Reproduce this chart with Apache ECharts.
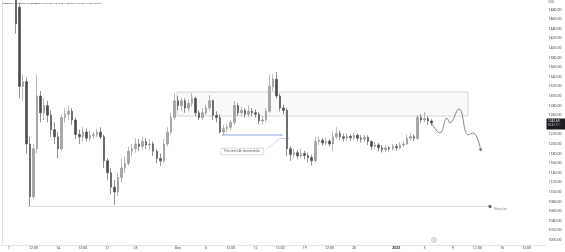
<!DOCTYPE html>
<html><head><meta charset="utf-8">
<script src="https://cdn.jsdelivr.net/npm/echarts@6/dist/echarts.min.js"></script>
<style>html,body{margin:0;padding:0;background:#fff}#c{width:565px;height:252px}</style>
</head><body><div id="c"></div>
<script>
// 12h slots across the visible time scale
const slotCount = 155;
const firstSlot = 4;
// [open, close, low, high] per 12h slot
const ohlc = [
[1560,1450,1430,1575],[1485,1320,1295,1495],[1320,1330,1290,1345],[1330,1200,1180,1338],
[1200,1090,1069,1215],[1090,1190,1085,1200],[1190,1300,1180,1345],[1300,1265,1245,1310],
[1265,1280,1250,1295],[1280,1260,1245,1290],[1260,1230,1215,1270],[1230,1215,1200,1245],
[1215,1190,1170,1225],[1190,1255,1185,1262],[1255,1262,1245,1275],[1262,1268,1250,1280],
[1268,1250,1240,1275],[1250,1220,1210,1255],[1220,1215,1200,1230],[1215,1225,1205,1235],
[1225,1212,1205,1232],[1212,1218,1206,1228],[1218,1220,1210,1225],[1220,1225,1214,1232],
[1225,1215,1210,1235],[1215,1165,1150,1220],[1165,1140,1125,1170],[1140,1110,1095,1150],
[1110,1100,1073,1125],[1100,1130,1092,1140],[1130,1150,1120,1170],[1150,1160,1140,1175],
[1160,1185,1155,1195],[1185,1190,1175,1200],[1190,1200,1182,1212],[1200,1195,1185,1210],
[1195,1205,1188,1215],[1205,1198,1190,1212],[1198,1200,1188,1210],[1200,1185,1175,1205],
[1185,1170,1160,1190],[1170,1165,1155,1180],[1165,1200,1160,1210],[1200,1225,1195,1235],
[1225,1255,1220,1265],[1255,1290,1250,1305],[1290,1280,1270,1300],[1280,1290,1268,1296],
[1290,1275,1265,1295],[1275,1285,1268,1292],[1285,1295,1278,1306],[1295,1265,1258,1298],
[1265,1255,1250,1270],[1255,1265,1250,1275],[1265,1275,1260,1282],[1275,1290,1270,1302],
[1290,1260,1250,1293],[1260,1255,1245,1268],[1255,1225,1222,1262],[1225,1232,1218,1240],
[1232,1235,1225,1242],[1235,1245,1228,1250],[1245,1280,1240,1290],[1280,1265,1258,1285],
[1265,1270,1258,1278],[1270,1262,1255,1275],[1262,1268,1256,1280],[1268,1265,1258,1275],
[1265,1262,1255,1272],[1262,1248,1242,1266],[1248,1250,1240,1258],[1250,1268,1246,1275],
[1268,1320,1265,1345],[1320,1335,1310,1345],[1335,1300,1295,1350],[1300,1275,1268,1305],
[1275,1270,1262,1282],[1270,1190,1175,1275],[1190,1178,1165,1195],[1178,1182,1170,1190],
[1182,1175,1168,1188],[1175,1180,1170,1190],[1180,1176,1168,1186],[1176,1172,1162,1182],
[1172,1165,1155,1178],[1165,1205,1162,1215],[1205,1208,1198,1215],[1208,1202,1196,1212],
[1202,1206,1198,1214],[1206,1200,1195,1210],[1200,1215,1185,1225],[1215,1222,1210,1235],
[1222,1215,1208,1228],[1215,1212,1205,1222],[1212,1216,1206,1222],[1216,1213,1207,1220],
[1213,1218,1208,1224],[1218,1212,1205,1222],[1212,1210,1203,1218],[1210,1214,1205,1220],
[1214,1205,1198,1218],[1205,1195,1188,1208],[1195,1198,1188,1204],[1198,1192,1185,1202],
[1192,1188,1182,1198],[1188,1192,1183,1198],[1192,1190,1184,1196],[1190,1195,1186,1200],
[1195,1192,1186,1200],[1192,1198,1188,1204],[1198,1200,1194,1206],[1200,1212,1198,1220],
[1212,1215,1208,1222],[1215,1212,1206,1220],[1212,1255,1208,1260],[1255,1250,1244,1262],
[1250,1253,1245,1267],[1253,1248,1240,1258],[1248,1243.6,1238,1252]
];
const tickIndex = [2,9,16,23,30,38,50,58,65,72,79,86,93,100,112,120,128,135,142,149];
const tickText = ['7','12:00','14','12:00','21','25','Dec','5','12:00','12','12:00','19','12:00','26','2023','5','9','12:00','16','12:00'];
// hand-drawn projection path (slot position, price)
const projX = [122,124.4,126.4,127.2,129.8,132.4,133.8,136.05];
const projY = [1244,1223,1254,1244,1273,1219,1223,1185];
// rising line
const risingX = [7.45,138.6];
const risingPrice = 1069.8;
// rectangle zone
const boxX = [49.75,132.35];
const boxY = [1308.3,1258.3];
// blue horizontal line
const blueX = [62.5,79.8];
const bluePrice = 1218.75;
const lastPrice = 1243.6;
const title = 'Ethereum / U.S. Dollar, 4h, BITSTAMP  O1247.20  H1249.70  L1238.00  C1243.60  \u22123.60 (\u22120.29%)';

const categories = [];
for (let i = 0; i < slotCount; i++) categories.push('s' + i);
const candleData = categories.map((c, i) =>
  (i >= firstSlot && i < firstSlot + ohlc.length) ? ohlc[i - firstSlot] : '-');

const FONT = 'Roboto, "Noto Sans", sans-serif';
const chart = echarts.init(document.getElementById('c'), null, {renderer: 'canvas'});
chart.setOption({
  animation: false,
  backgroundColor: '#ffffff',
  grid: {left: 0, top: 0, right: 19, bottom: 7.2},
  xAxis: [{
    type: 'category', data: categories, boundaryGap: true,
    axisLine: {lineStyle: {color: '#dfe2ea', width: 1}},
    axisTick: {show: false}, splitLine: {show: false},
    axisLabel: {
      interval: (idx) => tickIndex.includes(idx),
      formatter: (v, idx) => { const k = tickIndex.indexOf(idx); const t = k >= 0 ? tickText[k] : ''; return t === '2023' ? '{b|2023}' : t; },
      fontSize: 3.6, margin: 1.4, color: '#444', fontFamily: FONT,
      rich: {b: {fontWeight: 'bold', fontSize: 3.6, color: '#333', fontFamily: FONT}}
    }
  }, {
    type: 'value', min: -0.5, max: slotCount - 0.5, show: false
  }],
  yAxis: {
    type: 'value', position: 'right', min: 990, max: 1500, interval: 10,
    axisLine: {show: true, lineStyle: {color: '#dfe2ea', width: 1}},
    axisTick: {show: false}, splitLine: {show: false},
    axisLabel: {
      fontSize: 3.6, margin: 2.5, color: '#444', fontFamily: FONT,
      formatter: v => (v >= 1000 && v <= 1480 && Math.round(v) % 20 === 0) ? v.toFixed(2) : ''
    }
  },
  series: [
    {
      type: 'candlestick', xAxisIndex: 0, data: candleData, barWidth: 2,
      itemStyle: {color: '#a8a8a8', color0: '#4a4a4a', borderColor: '#8c8c8c', borderColor0: '#4a4a4a', borderWidth: 0.6}
    },
    {
      type: 'line', xAxisIndex: 1, silent: true,
      data: [
        {value: [risingX[0], risingPrice], symbol: 'none'},
        {value: [risingX[1], risingPrice], symbol: 'circle', symbolSize: 3.6,
          itemStyle: {color: '#5a5a5a', borderColor: '#fff', borderWidth: 0.4},
          label: {show: true, position: 'right', distance: 2, offset: [0, 2.5], formatter: 'Rising line', fontSize: 2.8, color: '#8a8a8a', fontFamily: FONT}}
      ],
      lineStyle: {color: '#d4d7e0', width: 0.8},
      markArea: {
        silent: true,
        itemStyle: {color: 'rgba(210,210,215,0.10)', borderColor: '#cfcfd3', borderWidth: 0.8},
        data: [[{coord: [boxX[0], boxY[0]]}, {coord: [boxX[1], boxY[1]]}]]
      }
    },
    {
      type: 'line', xAxisIndex: 1, silent: true, symbol: 'none',
      data: [[blueX[0], bluePrice], [blueX[1], bluePrice]],
      lineStyle: {color: '#6d86d8', width: 0.8},
      endLabel: {show: true, formatter: '1218.75', fontSize: 2.5, color: '#5b76d0', offset: [-11, 3], fontFamily: FONT}
    },
    {
      type: 'line', xAxisIndex: 1, silent: true, symbol: 'none',
      data: [[75.3, 1189.6], [79, 1212.5]],
      lineStyle: {color: '#b8bfd8', width: 0.6}
    },
    {
      type: 'scatter', xAxisIndex: 1, silent: true, symbolSize: 0,
      data: [[68.2, 1184.4]],
      label: {
        show: true, position: 'inside', formatter: 'Potvrzení 4h downtrendu',
        fontSize: 3.2, color: '#333', fontFamily: FONT,
        backgroundColor: '#ffffff', borderColor: '#c4c4c4', borderWidth: 0.6, borderRadius: 2,
        padding: [1.6, 4]
      }
    },
    {
      type: 'line', xAxisIndex: 1, silent: true, smooth: 0.45,
      data: projX.map((x, i) => ({
        value: [x, projY[i]],
        symbol: i === projX.length - 1 ? 'arrow' : 'none',
        symbolSize: 3, symbolRotate: 195
      })),
      itemStyle: {color: '#666'},
      lineStyle: {color: '#6a6a6a', width: 0.8}
    }
  ]
});

const py = chart.convertToPixel({yAxisIndex: 0}, lastPrice);
chart.setOption({
  graphic: [
    {type: 'text', left: 3, top: 2.6, style: {text: title, fontSize: 2.3, fill: '#333', fontFamily: FONT}},
    {type: 'text', left: 548.5, top: 1, style: {text: 'USD', fontSize: 2.8, fill: '#555', fontFamily: FONT}},
    {type: 'rect', shape: {x: 546.5, y: py - 4.6, width: 18.5, height: 11, r: 0.5}, style: {fill: '#1b1d22'}},
    {type: 'text', x: 548, y: py - 3.6, style: {text: '1243.60', fontSize: 3.2, fill: '#ffffff', fontFamily: FONT}},
    {type: 'text', x: 548, y: py + 1.2, style: {text: '00:41:17', fontSize: 2.8, fill: '#d0d0d0', fontFamily: FONT}},
    {type: 'circle', shape: {cx: 434, cy: 240, r: 2.4}, style: {fill: '#fff', stroke: '#9a9a9a', lineWidth: 0.6}},
    {type: 'circle', shape: {cx: 434, cy: 240, r: 0.7}, style: {fill: '#9a9a9a'}}
  ]
});
</script>
</body></html>
